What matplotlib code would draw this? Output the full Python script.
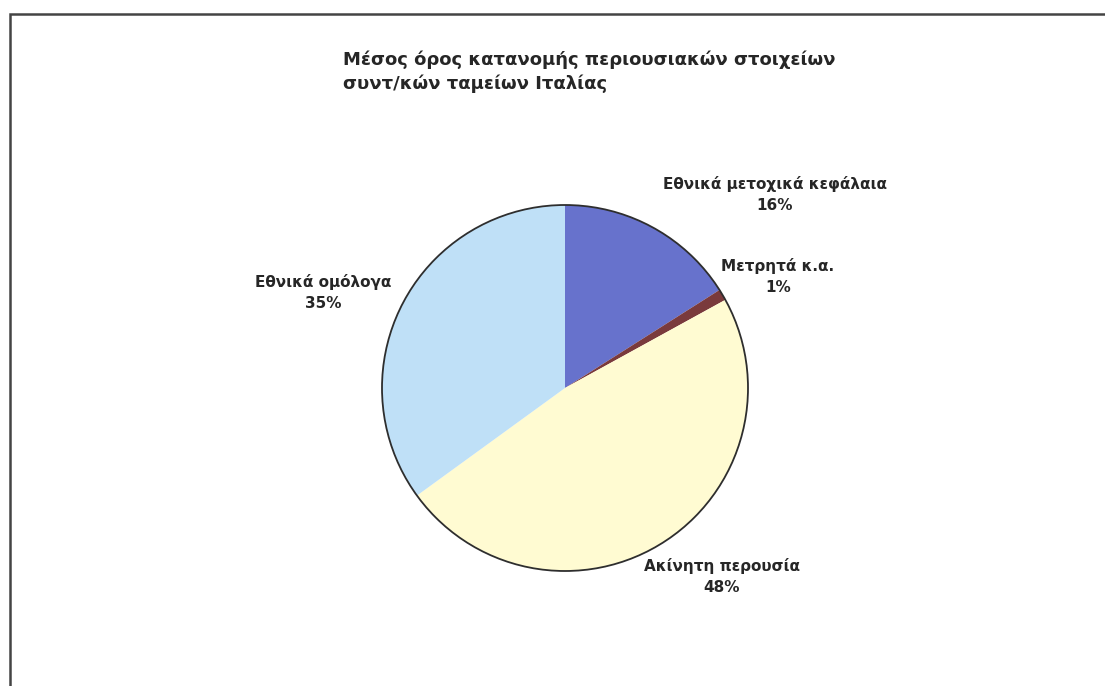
import matplotlib
matplotlib.use("Agg")
import matplotlib.pyplot as plt
from matplotlib.patches import Circle, Rectangle

plt.rcParams['font.family'] = ['DejaVu Sans']

# Κατανομή περιουσιακών στοιχείων (%)
labels = ['Εθνικά μετοχικά κεφάλαια', 'Μετρητά κ.α.', 'Ακίνητη περουσία', 'Εθνικά ομόλογα']
values = [16, 1, 48, 35]
colors = ['#6772cc', '#7a3a3c', '#fffbd2', '#bfe0f7']
title = 'Μέσος όρος κατανομής περιουσιακών στοιχείων\nσυντ/κών ταμείων Ιταλίας'

W, H = 1105, 686
fig = plt.figure(figsize=(W / 100, H / 100), dpi=100)
ax = fig.add_axes([0, 0, 1, 1])

# κέντρο και ακτίνα της πίτας σε pixel
cx, cy, r = 565, H - 388, 183

ax.pie(values, colors=colors, startangle=90, counterclock=False,
       center=(cx, cy), radius=r, frame=True,
       wedgeprops=dict(linewidth=0))
ax.set_xlim(0, W)
ax.set_ylim(0, H)
ax.set_aspect('equal')
ax.axis('off')
ax.add_patch(Circle((cx, cy), r, fill=False, edgecolor='#2e2e2e', linewidth=1.3))

# ετικέτες
label_pos = [(775, H - 195), (778, H - 277), (722, H - 577), (323, H - 292)]
for name, v, (x, y) in zip(labels, values, label_pos):
    ax.text(x, y, f'{name}\n{v}%', ha='center', va='center', fontsize=11,
            fontweight='bold', color='#262626', linespacing=1.5)

ax.text(343, H - 72, title, ha='left', va='center', fontsize=13,
        fontweight='bold', color='#262626', linespacing=1.4)

# πλαίσιο
ax.add_patch(Rectangle((10, -20), W + 20, H - 14 + 20, fill=False,
                       edgecolor='#444444', linewidth=1.8, clip_on=False))

fig.savefig('out.png', dpi=100, facecolor='white')
